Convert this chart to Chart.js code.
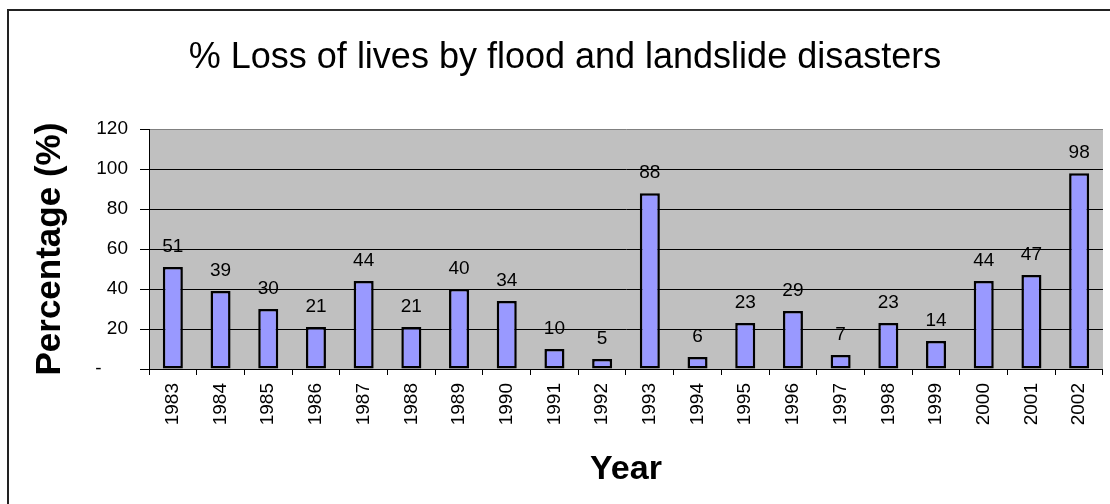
<!DOCTYPE html>
<html>
<head>
<meta charset="utf-8">
<title>% Loss of lives by flood and landslide disasters</title>
<script src="https://cdn.jsdelivr.net/npm/chart.js@4.4.1/dist/chart.umd.min.js"></script>
<style>
  html, body { margin: 0; padding: 0; background: #fff; overflow: hidden; }
  #wrap { position: relative; width: 1110px; height: 504px; }
  #frame {
    position: absolute; left: 7px; top: 9px; width: 1200px; height: 600px;
    border-left: 2px solid #222; border-top: 2px solid #222; pointer-events: none;
  }
</style>
</head>
<body>
<div id="wrap">
  <canvas id="chart" width="1110" height="504"></canvas>
  <div id="frame"></div>
</div>
<script>
// ── Data ──────────────────────────────────────────────────────────────────────
const YEARS = [
  '1983','1984','1985','1986','1987','1988','1989','1990','1991','1992',
  '1993','1994','1995','1996','1997','1998','1999','2000','2001','2002',
];
const LOSS_PCT = [51, 39, 30, 21, 44, 21, 40, 34, 10, 5, 88, 6, 23, 29, 7, 23, 14, 44, 47, 98];

const Y_MIN  = 0;
const Y_MAX  = 120;
const Y_STEP = 20;

const FONT = "Arial, 'Liberation Sans', sans-serif";

// ─── Plugins ──────────────────────────────────────────────────────────────────
// grey plot area like the old spreadsheet charts
const plotBackground = {
  id: 'plotBackground',
  beforeDraw(chart) {
    const { ctx, chartArea: a } = chart;
    ctx.save();
    ctx.fillStyle = '#c0c0c0';
    ctx.fillRect(a.left, a.top, a.right - a.left, a.bottom - a.top);
    ctx.restore();
  },
};

// value written above each bar
const barValueLabels = {
  id: 'barValueLabels',
  afterDatasetsDraw(chart) {
    const { ctx } = chart;
    const meta = chart.getDatasetMeta(0);
    ctx.save();
    ctx.font = `19px ${FONT}`;
    ctx.fillStyle = '#000';
    ctx.textAlign = 'center';
    ctx.textBaseline = 'alphabetic';
    meta.data.forEach((bar, i) => {
      ctx.fillText(String(LOSS_PCT[i]), bar.x, bar.y - 15);
    });
    ctx.restore();
  },
};

// ─── Chart ────────────────────────────────────────────────────────────────────
Chart.defaults.font.family = FONT;
Chart.defaults.color = '#000';

new Chart(document.getElementById('chart').getContext('2d'), {
  type: 'bar',
  data: {
    labels: YEARS,
    datasets: [{
      label: '% Loss of lives',
      data: LOSS_PCT,
      backgroundColor: '#9999ff',
      borderColor: '#000',
      borderWidth: 2.5,
      borderSkipped: false,
      barPercentage: 0.42,
      categoryPercentage: 1,
    }],
  },
  options: {
    responsive: false,
    animation: false,
    layout: { padding: { left: 23, right: 3, top: 0, bottom: 0 } },
    plugins: {
      legend: { display: false },
      tooltip: { enabled: false },
      title: {
        display: true,
        text: '% Loss of lives by flood and landslide disasters',
        color: '#000',
        font: { size: 36, weight: 'normal' },
        padding: { top: 36, bottom: 50 },
      },
    },
    scales: {
      x: {
        offset: true,
        grid: {
          offset: true,
          drawOnChartArea: false,
          drawTicks: true,
          tickLength: 6,
          color: '#000',
        },
        border: { color: '#000', width: 1 },
        ticks: {
          autoSkip: false,
          minRotation: 90,
          maxRotation: 90,
          padding: 8,
          color: '#000',
          font: { size: 19 },
        },
        title: {
          display: true,
          text: 'Year',
          color: '#000',
          font: { size: 34, weight: 'bold' },
          padding: { top: 0, bottom: 14 },
        },
        afterFit: s => { s.height = 135; },
      },
      y: {
        min: Y_MIN,
        max: Y_MAX,
        grid: {
          color: c => (c.tick && c.tick.value === Y_MAX ? '#808080' : '#000'),
          tickColor: '#000',
          tickLength: 9,
        },
        border: { color: '#000', width: 1 },
        ticks: {
          stepSize: Y_STEP,
          padding: 12,
          color: '#000',
          font: { size: 19 },
          callback: v => (v === 0 ? '-     ' : v),
        },
        title: {
          display: true,
          text: 'Percentage (%)',
          color: '#000',
          font: { size: 35, weight: 'bold' },
          padding: { top: 6, bottom: 0 },
        },
        afterFit: s => { s.width = 126; },
      },
    },
  },
  plugins: [plotBackground, barValueLabels],
});
</script>
</body>
</html>
